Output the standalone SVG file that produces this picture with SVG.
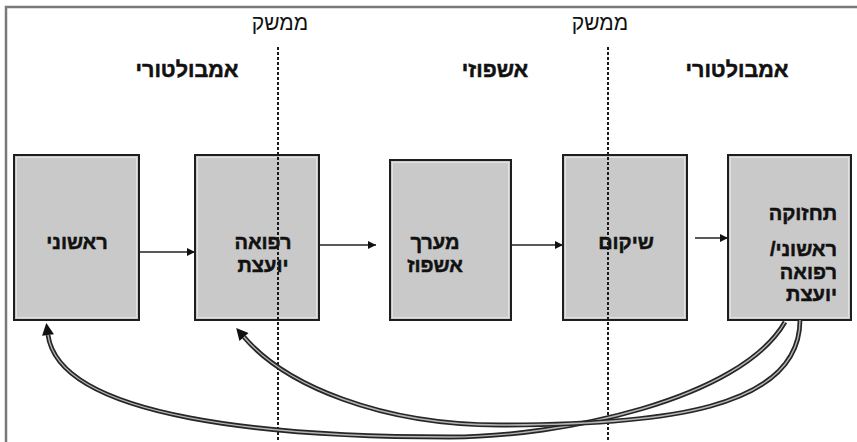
<svg xmlns="http://www.w3.org/2000/svg" width="857" height="442" viewBox="0 0 857 442">
  <style>
    .frame { fill: none; stroke: #7a7a7a; stroke-width: 2.5; }
    .box { fill: #c9c9c9; stroke: #1e1e1e; stroke-width: 2; }
    .inset { fill: none; stroke: #e2e2e2; stroke-width: 1; }
    .lbl { font-family: "Liberation Sans", "DejaVu Sans", sans-serif; font-weight: bold; font-size: 20px; fill: #111; stroke: #111; stroke-width: 0.5; }
    .head { font-family: "Liberation Sans", "DejaVu Sans", sans-serif; font-weight: bold; font-size: 21.5px; fill: #111; stroke: #111; stroke-width: 0.5; }
    .iface { font-family: "Liberation Sans", "DejaVu Sans", sans-serif; font-size: 21px; fill: #111; }
    .divider { stroke: #1a1a1a; stroke-width: 2; stroke-dasharray: 3 2; fill: none; }
    .flow { stroke: #222; stroke-width: 1.4; fill: none; marker-end: url(#small-head); }
    .ret-outer { stroke: #262626; stroke-width: 4.8; fill: none; marker-end: url(#big-head); }
    .ret-inner { stroke: #b5b5b5; stroke-width: 1.4; fill: none; }
  </style>
  <defs>
    <marker id="small-head" viewBox="0 0 10 10" refX="10" refY="5" markerWidth="9" markerHeight="8" markerUnits="userSpaceOnUse" orient="auto">
      <path d="M0,0 L10,5 L0,10 Z" fill="#111"/>
    </marker>
    <marker id="big-head" viewBox="0 0 10 10" refX="0" refY="5" markerWidth="14" markerHeight="12" markerUnits="userSpaceOnUse" orient="auto">
      <path d="M0,0 L10,5 L0,10 Z" fill="#111"/>
    </marker>
  </defs>

  <rect width="857" height="442" fill="#ffffff"/>
  <path class="frame" d="M6,442 V7 H857"/>

  <!-- section headings -->
  <g id="headings">
    <text class="iface" x="280" y="30" text-anchor="middle" direction="rtl">ממשק</text>
    <text class="iface" x="600" y="30" text-anchor="middle" direction="rtl">ממשק</text>
    <text class="head" x="187" y="77" text-anchor="middle" direction="rtl">אמבולטורי</text>
    <text class="head" x="495" y="77" text-anchor="middle" direction="rtl">אשפוזי</text>
    <text class="head" x="737" y="77" text-anchor="middle" direction="rtl">אמבולטורי</text>
  </g>

  <!-- care stages -->
  <g id="primary">
    <rect class="box" x="14" y="155" width="125" height="165"/>
    <rect class="inset" x="16.5" y="157.5" width="120" height="160"/>
    <text class="lbl" x="77" y="249" text-anchor="middle" direction="rtl">ראשוני</text>
  </g>
  <g id="consult">
    <rect class="box" x="195" y="155" width="124" height="165"/>
    <rect class="inset" x="197.5" y="157.5" width="119" height="160"/>
    <text class="lbl" x="263" y="249" text-anchor="middle" direction="rtl">רפואה</text>
    <text class="lbl" x="263" y="272" text-anchor="middle" direction="rtl">יועצת</text>
  </g>
  <g id="inpatient">
    <rect class="box" x="390" y="160" width="121" height="160"/>
    <rect class="inset" x="392.5" y="162.5" width="116" height="155"/>
    <text class="lbl" x="435" y="249" text-anchor="middle" direction="rtl">מערך</text>
    <text class="lbl" x="435" y="272" text-anchor="middle" direction="rtl">אשפוז</text>
  </g>
  <g id="rehab">
    <rect class="box" x="563" y="155" width="124" height="165"/>
    <rect class="inset" x="565.5" y="157.5" width="119" height="160"/>
    <text class="lbl" x="626" y="249" text-anchor="middle" direction="rtl">שיקום</text>
  </g>
  <g id="maintenance">
    <rect class="box" x="728" y="155" width="123" height="165"/>
    <rect class="inset" x="730.5" y="157.5" width="118" height="160"/>
    <text class="lbl" x="837" y="220" text-anchor="start" direction="rtl">תחזוקה</text>
    <text class="lbl" x="837" y="256" text-anchor="start" direction="rtl">ראשוני/</text>
    <text class="lbl" x="837" y="279" text-anchor="start" direction="rtl">רפואה</text>
    <text class="lbl" x="837" y="301" text-anchor="start" direction="rtl">יועצת</text>
  </g>

  <!-- interface dividers -->
  <g id="dividers">
    <line class="divider" x1="278" y1="47" x2="278" y2="442"/>
    <line class="divider" x1="608" y1="47" x2="608" y2="442"/>
  </g>

  <g id="connectors">
    <line class="flow" x1="139" y1="252" x2="195" y2="252"/>
    <line class="flow" x1="319" y1="245" x2="376" y2="245"/>
    <line class="flow" x1="511" y1="245" x2="563" y2="245"/>
    <line class="flow" x1="695" y1="238" x2="728" y2="238"/>

    <!-- return paths back to ambulatory care, drawn as double lines -->
    <path class="ret-outer" d="M785,322 C740,400 560,437 450,437 C280,437 60,420 48,335"/>
    <path class="ret-inner" d="M785,322 C740,400 560,437 450,437 C280,437 60,420 48,335"/>
    <path class="ret-outer" d="M800,320 C800,410 660,425 500,425 C380,425 285,385 244,337"/>
    <path class="ret-inner" d="M800,320 C800,410 660,425 500,425 C380,425 285,385 244,337"/>
  </g>
</svg>
